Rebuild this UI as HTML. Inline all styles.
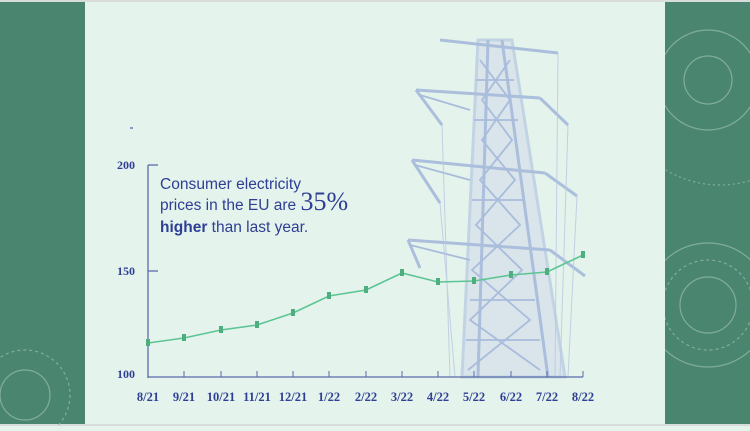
<!DOCTYPE html>
<html><head><style>
body{margin:0;width:750px;height:426px;overflow:hidden;background:#e4f3ec;font-family:"Liberation Sans",sans-serif}
</style></head><body>
<svg width="750" height="426" viewBox="0 0 750 426" xmlns="http://www.w3.org/2000/svg">
<defs>
<clipPath id="cr"><rect x="665" y="0" width="85" height="426"/></clipPath>
<clipPath id="cl"><rect x="0" y="0" width="85" height="426"/></clipPath>
</defs>
<rect x="0" y="0" width="750" height="426" fill="#e4f3ec"/>
<rect x="0" y="0" width="85" height="426" fill="#4a8570"/>
<rect x="665" y="0" width="85" height="426" fill="#4a8570"/>
<rect x="0" y="0" width="750" height="2" fill="#d8dcda"/>
<rect x="0" y="424" width="750" height="2" fill="#d8dcda"/>
<g fill="none" stroke="#8fb8a6" stroke-width="1.2" opacity="0.8" clip-path="url(#cr)">
<circle cx="708" cy="80" r="24"/><circle cx="708" cy="80" r="50"/><circle cx="720" cy="80" r="105" stroke-dasharray="2 3"/>
<circle cx="708" cy="305" r="28"/><circle cx="708" cy="305" r="45" stroke-dasharray="3 3"/><circle cx="708" cy="305" r="62"/>
</g>
<g fill="none" stroke="#8fb8a6" stroke-width="1.2" opacity="0.8" clip-path="url(#cl)">
<circle cx="25" cy="395" r="25"/><circle cx="25" cy="395" r="45" stroke-dasharray="3 3"/>
</g>
<!-- tower -->
<g stroke="#a9bcdc" stroke-width="3" fill="none" opacity="0.95">
<polygon points="478,40 512,40 565,377 462,377" fill="#d0dbea" opacity="0.6" stroke-width="3"/>
<line x1="488" y1="40" x2="478" y2="377"/><line x1="502" y1="40" x2="548" y2="377"/>
<line x1="440" y1="40" x2="558" y2="53"/><line x1="416" y1="90" x2="540" y2="98"/><line x1="540" y1="98" x2="568" y2="125"/>
<line x1="412" y1="160" x2="545" y2="173"/><line x1="545" y1="173" x2="577" y2="196"/>
<line x1="408" y1="240" x2="550" y2="250"/><line x1="550" y1="250" x2="585" y2="276"/>
<line x1="416" y1="90" x2="442" y2="125"/><line x1="412" y1="160" x2="440" y2="203"/><line x1="408" y1="240" x2="420" y2="268"/>
</g>
<g stroke="#a9bcdc" stroke-width="1.8" fill="none">
<path d="M480 60 L510 100 L482 140 L515 180 L476 225 L522 270 L470 320 L540 370 M510 60 L482 100 L512 140 L480 180 L520 225 L472 270 L530 320 L468 370"/>
<path d="M476 80 L514 80 M474 120 L518 120 M472 200 L525 200 M470 300 L535 300 M466 340 L540 340 M420 95 L470 110 M415 165 L470 180 M410 245 L470 260"/>
</g>
<g stroke="#b9c8e0" stroke-width="1" opacity="0.8">
<line x1="442" y1="125" x2="450" y2="377"/><line x1="440" y1="203" x2="455" y2="377"/><line x1="568" y1="125" x2="560" y2="377"/><line x1="577" y1="196" x2="568" y2="377"/><line x1="558" y1="53" x2="555" y2="377"/>
</g>
<!-- axes -->
<g stroke="#5a6aa8" stroke-width="1.3">
<line x1="148" y1="165" x2="148" y2="378"/><line x1="148" y1="377" x2="583" y2="377"/>
<line x1="148" y1="165" x2="158" y2="165"/><line x1="148" y1="271" x2="158" y2="271"/>
<line x1="130" y1="128" x2="133" y2="128"/>
</g>
<g stroke="#5a6aa8" stroke-width="1">
<line x1="184" y1="371" x2="184" y2="377"/><line x1="221" y1="371" x2="221" y2="377"/><line x1="257" y1="371" x2="257" y2="377"/><line x1="293" y1="371" x2="293" y2="377"/><line x1="329" y1="371" x2="329" y2="377"/><line x1="366" y1="371" x2="366" y2="377"/><line x1="402" y1="371" x2="402" y2="377"/><line x1="438" y1="371" x2="438" y2="377"/><line x1="474" y1="371" x2="474" y2="377"/><line x1="511" y1="371" x2="511" y2="377"/><line x1="547" y1="371" x2="547" y2="377"/><line x1="583" y1="371" x2="583" y2="377"/>
</g>
<g font-family="Liberation Serif,serif" font-weight="bold" font-size="12" fill="#2e3f94">
<text x="117" y="169">200</text><text x="117" y="275">150</text><text x="117" y="378">100</text>
<g text-anchor="middle" font-size="12.5"><text x="148" y="401">8/21</text><text x="184" y="401">9/21</text><text x="221" y="401">10/21</text><text x="257" y="401">11/21</text><text x="293" y="401">12/21</text><text x="329" y="401">1/22</text><text x="366" y="401">2/22</text><text x="402" y="401">3/22</text><text x="438" y="401">4/22</text><text x="474" y="401">5/22</text><text x="511" y="401">6/22</text><text x="547" y="401">7/22</text><text x="583" y="401">8/22</text></g>
</g>
<polyline fill="none" stroke="#5cc593" stroke-width="1.6" points="148,343 184,338 221,330 257,325 293,313 329,296 366,290 402,273 438,282 474,281 511,275 547,272 583,255"/>
<g fill="#4fae7f">
<rect x="146" y="339" width="4" height="7"/><rect x="182" y="334" width="4" height="7"/><rect x="219" y="326" width="4" height="7"/><rect x="255" y="321" width="4" height="7"/><rect x="291" y="309" width="4" height="7"/><rect x="327" y="292" width="4" height="7"/><rect x="364" y="286" width="4" height="7"/><rect x="400" y="269" width="4" height="7"/><rect x="436" y="278" width="4" height="7"/><rect x="472" y="277" width="4" height="7"/><rect x="509" y="271" width="4" height="7"/><rect x="545" y="268" width="4" height="7"/><rect x="581" y="251" width="4" height="7"/>
</g>
<g font-family="Liberation Sans,sans-serif" font-size="15.5" fill="#2e3f94">
<text x="160" y="189" textLength="141" lengthAdjust="spacingAndGlyphs">Consumer electricity</text>
<text x="160" y="210">prices in the EU are <tspan font-family="Liberation Serif,serif" font-size="26">35%</tspan></text>
<text x="160" y="232"><tspan font-weight="bold">higher</tspan> than last year.</text>
</g>
</svg>
</body></html>
